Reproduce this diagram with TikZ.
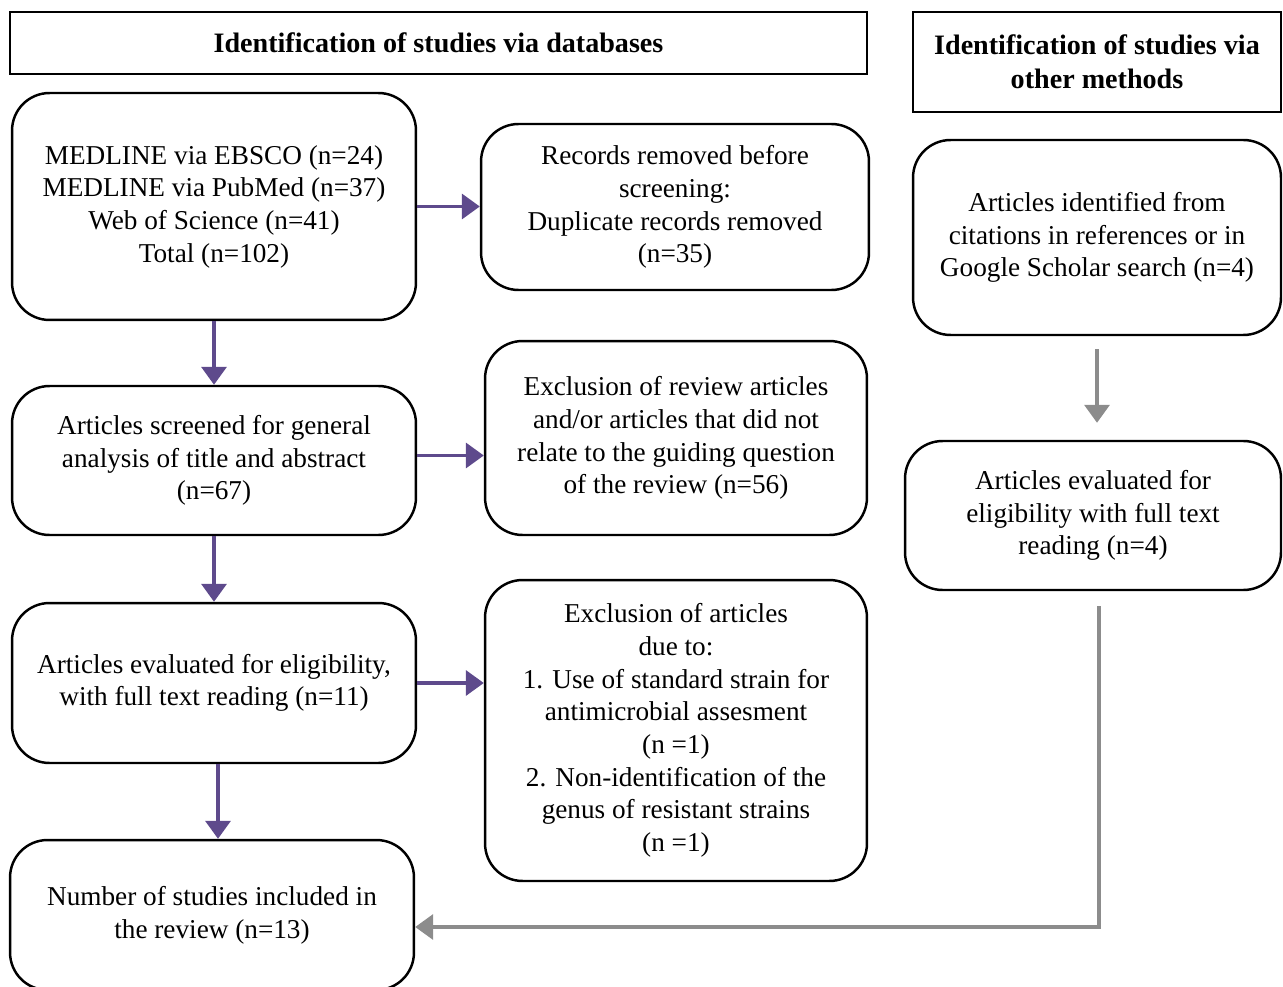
\documentclass[tikz,border=0pt]{standalone}
\usepackage{fontspec}
\setmainfont{Liberation Serif}
\usetikzlibrary{arrows.meta,positioning,calc}
\definecolor{flowpurple}{HTML}{5E4A8C}
\definecolor{sidegray}{HTML}{8C8C8C}

\tikzset{
  box/.style={draw, line width=1.4pt, rounded corners=0.75cm, align=center,
    inner sep=2pt, font=\fontsize{15.5}{18.6}\selectfont},
  headbox/.style={draw, line width=1.6pt, align=center, inner sep=2pt,
    font=\fontsize{16}{19.3}\selectfont\bfseries},
  flow/.style={-{Triangle[length=0.36cm,width=0.5cm]}, line width=2pt, flowpurple},
  side/.style={-{Triangle[length=0.36cm,width=0.5cm]}, line width=2pt, sidegray}
}

\begin{document}
\begin{tikzpicture}[x=0.02cm, y=-0.02cm]
\useasboundingbox (0,0) rectangle (1283,986);

% --- headers ---
\node[headbox, minimum width=17.14cm, minimum height=1.24cm] (dbhead) at (438.5,43) {Identification of studies via databases};
\node[headbox, minimum width=7.36cm, minimum height=2cm] (otherhead) at (1097,62) {Identification of studies via\\other methods};

% --- databases branch ---
\node[box, minimum width=8.08cm, minimum height=4.54cm] (sources) at (214,206.5)
  {MEDLINE via EBSCO (n=24)\\MEDLINE via PubMed (n=37)\\Web of Science (n=41)\\Total (n=102)};
\node[box, minimum width=7.76cm, minimum height=3.32cm] (removed) at (675,207)
  {Records removed before\\screening:\\Duplicate records removed\\(n=35)};
\node[box, minimum width=8.08cm, minimum height=2.98cm] (screened) at (214,460.5)
  {Articles screened for general\\analysis of title and abstract\\(n=67)};
\node[box, minimum width=7.64cm, minimum height=3.88cm] (review) at (676,438)
  {Exclusion of review articles\\and/or articles that did not\\relate to the guiding question\\of the review (n=56)};
\node[box, minimum width=8.08cm, minimum height=3.2cm] (eligible) at (214,683)
  {Articles evaluated for eligibility,\\with full text reading (n=11)};
\node[box, minimum width=7.64cm, minimum height=6.02cm] (excluded) at (676,730.5)
  {Exclusion of articles\\due to:\\1. Use of standard strain for\\antimicrobial assesment\\(n =1)\\2. Non-identification of the\\genus of resistant strains\\(n =1)};
\node[box, minimum width=8.08cm, minimum height=3cm] (included) at (212,915)
  {Number of studies included in\\the review (n=13)};

% --- other methods branch ---
\node[box, minimum width=7.36cm, minimum height=3.9cm] (cited) at (1097,237.5)
  {Articles identified from\\citations in references or in\\Google Scholar search (n=4)};
\node[box, minimum width=7.52cm, minimum height=2.98cm] (othereval) at (1093,515.5)
  {Articles evaluated for\\eligibility with full text\\reading (n=4)};

% --- connectors ---
\draw[flow] (sources.east) -- (removed.west |- sources.east);
\draw[flow] (sources.south) -- (screened.north);
\draw[flow] ([yshift=0.1cm]screened.east) -- ([yshift=0.1cm]review.west |- screened.east);
\draw[flow] (screened.south) -- (eligible.north);
\draw[flow] (eligible.east) -- (excluded.west |- eligible.east);
\draw[flow] ([xshift=0.08cm]eligible.south) -- ([xshift=0.08cm]eligible.south |- included.north);

\coordinate (bend) at (1099,927);
\draw[side, shorten <=0.26cm, shorten >=0.34cm] (cited.south) -- (othereval.north -| cited.south);
\draw[side, shorten <=0.3cm] (bend |- othereval.south) -- (bend) -- (included.east |- bend);
\end{tikzpicture}
\end{document}
